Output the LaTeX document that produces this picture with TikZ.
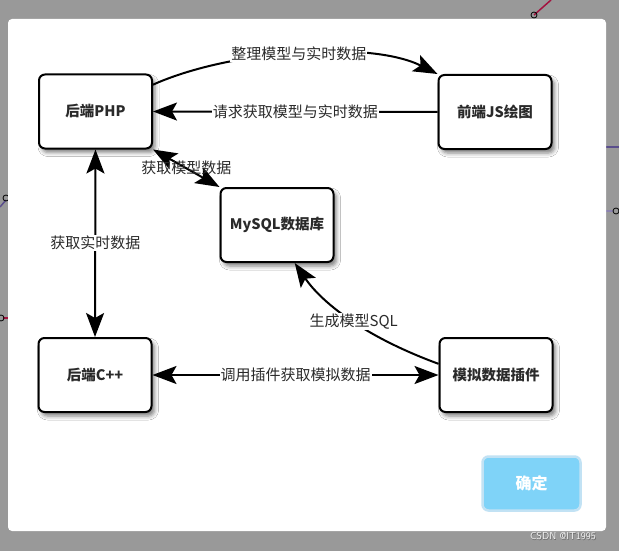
\documentclass[tikz,border=0pt]{standalone}
\usepackage{fontspec}
\newfontfamily\cjk{Noto Sans CJK SC}
\usetikzlibrary{arrows.meta,shadows.blur}
\definecolor{bggray}{HTML}{999999}
\definecolor{txt}{HTML}{2A2A2A}
\definecolor{btnfill}{HTML}{7FD3F8}
\definecolor{btnedge}{HTML}{C2E2F4}
\definecolor{crim}{HTML}{A3123F}
\definecolor{purp}{HTML}{5A4E8C}
\tikzset{
  boxnode/.style={draw=black, line width=2pt, rounded corners=6pt, fill=white,
    minimum width=113pt, minimum height=74pt, inner sep=0pt,
    font=\cjk\bfseries\fontsize{14.5}{16}\selectfont, text=txt,
    blur shadow={shadow xshift=3pt, shadow yshift=-4pt, shadow blur radius=4pt, shadow opacity=50}},
  conn/.style={line width=2pt, draw=black},
  tip/.style={-{Stealth[length=24pt,width=18pt,inset=5pt]}},
  dtip/.style={{Stealth[length=24pt,width=18pt,inset=5pt]}-{Stealth[length=24pt,width=18pt,inset=5pt]}},
  lbl/.style={fill=white, inner sep=1pt, text=txt, font=\cjk\fontsize{15}{17}\selectfont},
}
\begin{document}
\begin{tikzpicture}[x=1pt,y=-1pt]
\useasboundingbox (0,0) rectangle (619,551);
\fill[bggray] (0,0) rectangle (619,551);
% background fragments
\draw[crim, line width=1.5pt] (551,0) -- (534,15);
\draw[black, line width=0.8pt] (534,15) circle (3pt);
\draw[purp, line width=1.5pt] (0,207) -- (6,200);
\draw[black, line width=0.8pt] (6,198) circle (3pt);
\draw[crim, line width=1.5pt] (3,318) -- (8,318);
\draw[black, line width=0.8pt] (1,318) circle (3pt);
\draw[purp, line width=1.5pt] (606,147) -- (619,147);
\draw[purp!70, line width=1.5pt] (606,211) -- (613,211);
\draw[black, line width=0.8pt] (616,211) circle (3pt);
% dialog
\fill[white, rounded corners=4pt] (8,19) rectangle (606,531);
% nodes
\node[boxnode] (php) at (95.5,111.5) {后端PHP};
\node[boxnode] (jsn) at (495,112) {前端JS绘图};
\node[boxnode] (mysql) at (277,225) {MySQL数据库};
\node[boxnode] (cpp) at (95,375) {后端C++};
\node[boxnode] (sim) at (496,375) {模拟数据插件};
% connectors
\draw[conn,tip] (php.25) .. controls (230,50) and (370,40) .. (jsn.north west)
  node[lbl, pos=0.5] {整理模型与实时数据};
\draw[conn,tip] (jsn.west) -- node[lbl] {请求获取模型与实时数据} (php.east);
\draw[conn,dtip] (mysql.north west) -- node[lbl, fill=none] {获取模型数据} (php.south east);
\draw[conn,dtip] (php.south) -- node[lbl] {获取实时数据} (cpp.north);
\draw[conn,dtip] (cpp.east) -- node[lbl] {调用插件获取模拟数据} (sim.west);
\draw[conn,tip] (sim.169) .. controls (360,335) and (320,300) .. (mysql.-65)
  node[lbl, pos=0.45] {生成模型SQL};
% button
\node[draw=btnedge, line width=2.5pt, fill=btnfill, rounded corners=6pt,
  minimum width=98pt, minimum height=54pt, text=white,
  font=\cjk\bfseries\fontsize{16}{18}\selectfont] (ok) at (531.5,483.5) {确定};
% watermark
\node[text=gray!80!black, font=\sffamily\fontsize{10}{12}\selectfont] (wm0) at (563.6,536.6) {CSDN @IT1995};
\node[text=white!92!gray, font=\sffamily\fontsize{10}{12}\selectfont] (wm) at (563,536) {CSDN @IT1995};
\end{tikzpicture}
\end{document}
